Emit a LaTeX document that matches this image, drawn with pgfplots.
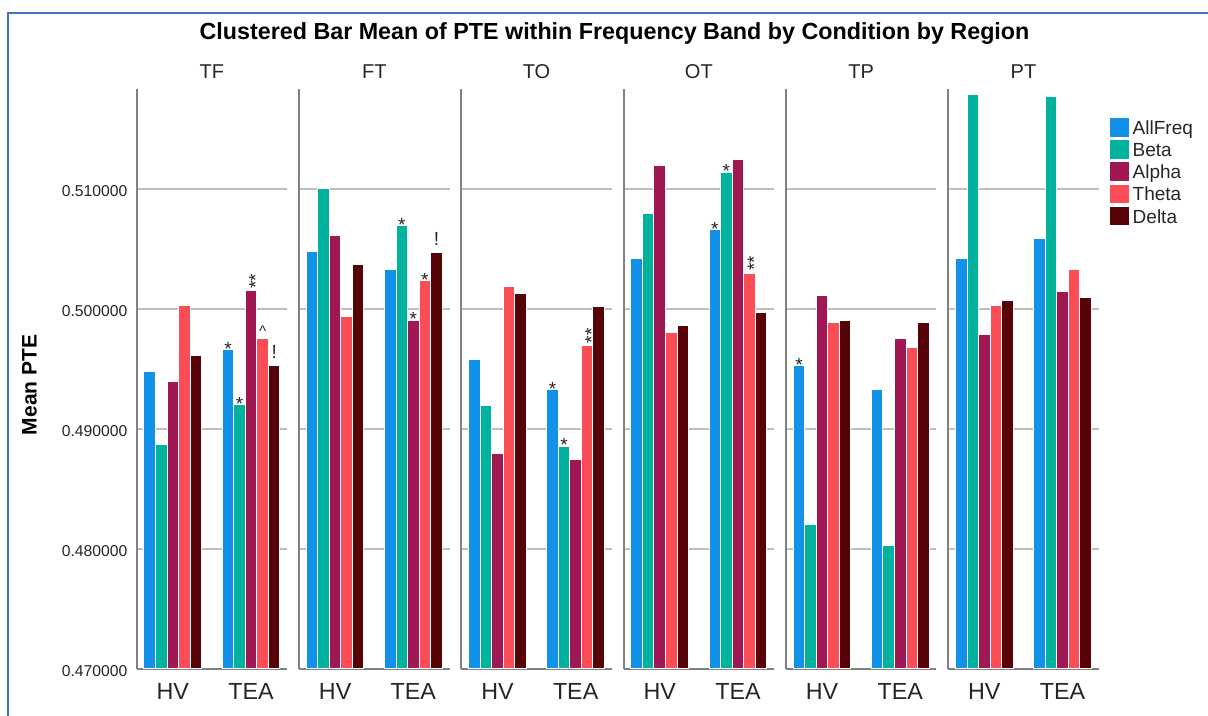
\documentclass[border=0pt]{standalone}
\usepackage{fontspec}
\setmainfont{Liberation Sans}
\usepackage{graphicx}
\usepackage{pgfplots}
\usepackage{pgfplotstable}
\pgfplotsset{compat=1.18}

\definecolor{cAll}{RGB}{17,146,232}
\definecolor{cBeta}{RGB}{1,178,158}
\definecolor{cAlpha}{RGB}{159,24,83}
\definecolor{cTheta}{RGB}{250,77,86}
\definecolor{cDelta}{RGB}{87,4,8}
\definecolor{axisgray}{RGB}{128,128,128}
\definecolor{gridgray}{RGB}{190,190,190}
\definecolor{txtgray}{RGB}{38,38,38}
\definecolor{framecol}{RGB}{68,114,196}

% significance markers printed above the bars (codes n, s, d, b, c)
\newcommand\labn{}
\newcommand\labs{\raisebox{-2.8pt}{*}}
\newcommand\labd{\raisebox{1.2pt}{\rotatebox{90}{**}}\kern-4.5pt}
\newcommand\labb{\raisebox{3.5pt}{!}}
\newcommand\labc{\raisebox{1pt}{\scalebox{0.8}{\textasciicircum}}}

% x: 0 = HV, 1 = TEA
\pgfplotstableread{
x allf beta alpha theta delta la lb lc ld le
0 0.49479 0.48872 0.49399 0.50029 0.49610 n n n n n
1 0.49661 0.49201 0.50150 0.49751 0.49530 s s d c b
}\tTF
\pgfplotstableread{
x allf beta alpha theta delta la lb lc ld le
0 0.50479 0.51000 0.50610 0.49939 0.50367 n n n n n
1 0.50326 0.50693 0.49907 0.50236 0.50473 n s s s b
}\tFT
\pgfplotstableread{
x allf beta alpha theta delta la lb lc ld le
0 0.49575 0.49198 0.48796 0.50185 0.50128 n n n n n
1 0.49329 0.48856 0.48744 0.49696 0.50022 s s n d n
}\tTO
\pgfplotstableread{
x allf beta alpha theta delta la lb lc ld le
0 0.50419 0.50799 0.51195 0.49805 0.49863 n n n n n
1 0.50661 0.51141 0.51249 0.50297 0.49971 s s n d n
}\tOT
\pgfplotstableread{
x allf beta alpha theta delta la lb lc ld le
0 0.49527 0.48208 0.50109 0.49891 0.49904 s n n n n
1 0.49332 0.48026 0.49751 0.49677 0.49885 n n n n n
}\tTP
\pgfplotstableread{
x allf beta alpha theta delta la lb lc ld le
0 0.50419 0.51789 0.49786 0.50026 0.50067 n n n n n
1 0.50585 0.51773 0.50147 0.50326 0.50099 n n n n n
}\tPT

\pgfplotsset{
  sq legend/.style={legend image code/.code={\fill[##1,draw=none] (0pt,-4.7pt) rectangle (9.15pt,4.7pt);}},
  bAll/.style={fill=cAll, draw=white, line width=0.5pt, bar shift=-0.295, sq legend},
  bBeta/.style={fill=cBeta, draw=white, line width=0.5pt, bar shift=-0.1475, sq legend},
  bAlpha/.style={fill=cAlpha, draw=white, line width=0.5pt, bar shift=0, sq legend},
  bTheta/.style={fill=cTheta, draw=white, line width=0.5pt, bar shift=0.1475, sq legend},
  bDelta/.style={fill=cDelta, draw=white, line width=0.5pt, bar shift=0.295, sq legend},
  panel/.style={
    scale only axis, width=75.25pt, height=290pt, anchor=south west,
    xmin=-0.462, xmax=1.462, ymin=0.47, ymax=0.518333,
    ybar, bar width=0.1475,
    axis x line*=bottom, axis y line*=left,
    axis line style={draw=axisgray, line width=1pt, -},
    ytick={0.47,0.48,0.49,0.50,0.51},
    ymajorgrids, grid style={draw=gridgray, line width=0.75pt},
    major tick length=0pt,
    yticklabel=\empty,
    xtick={0,1}, xticklabels={HV,TEA},
    xticklabel style={font=\fontsize{11.65}{13}\selectfont, text=txtgray,
      anchor=base, inner sep=0pt, yshift=-15.5pt},
    title style={at={(axis description cs:0.5,1)}, anchor=base, yshift=-0.65pt,
      inner sep=0pt, font=\fontsize{10}{12}\selectfont, text=txtgray},
    point meta=explicit symbolic,
    nodes near coords={\csname lab\pgfplotspointmeta\endcsname},
    nodes near coords style={anchor=base, inner sep=0pt, text=txtgray,
      font=\fontsize{9.5}{10}\selectfont},
    clip=false,
  },
}

\begin{document}
\begin{tikzpicture}
\useasboundingbox (0,0) rectangle (604pt,358pt);
\fill[white] (0,0) rectangle (604pt,358pt);
\draw[framecol, line width=1pt] (3.9pt,0pt) -- (3.9pt,351.65pt) -- (604pt,351.65pt);

\node[anchor=base, font=\bfseries\fontsize{11.65}{14}\selectfont]
  at (307.25pt,338pt) {Clustered Bar Mean of PTE within Frequency Band by Condition by Region};

% TF
\begin{axis}[panel, at={(68.35pt,23.5pt)}, title={TF},
  yticklabel={\pgfmathprintnumber{\tick}},
  yticklabel style={font=\fontsize{7.85}{9}\selectfont, text=txtgray,
    anchor=east, inner sep=0pt, xshift=-4.5pt, yshift=-1.2pt,
    /pgf/number format/.cd, fixed, fixed zerofill, precision=6, assume math mode=true},
  ylabel={Mean PTE},
  ylabel style={at={(axis description cs:-0.7123,0.4897)}, anchor=center,
    font=\bfseries\fontsize{10.5}{12}\selectfont},
]
\addplot[bAll]   table[x=x, y=allf,  meta=la] {\tTF};
\addplot[bBeta]  table[x=x, y=beta,  meta=lb] {\tTF};
\addplot[bAlpha] table[x=x, y=alpha, meta=lc] {\tTF};
\addplot[bTheta] table[x=x, y=theta, meta=ld] {\tTF};
\addplot[bDelta] table[x=x, y=delta, meta=le] {\tTF};
\end{axis}

% FT
\begin{axis}[panel, at={(149.5pt,23.5pt)}, title={FT}]
\addplot[bAll]   table[x=x, y=allf,  meta=la] {\tFT};
\addplot[bBeta]  table[x=x, y=beta,  meta=lb] {\tFT};
\addplot[bAlpha] table[x=x, y=alpha, meta=lc] {\tFT};
\addplot[bTheta] table[x=x, y=theta, meta=ld] {\tFT};
\addplot[bDelta] table[x=x, y=delta, meta=le] {\tFT};
\end{axis}

% TO
\begin{axis}[panel, at={(230.65pt,23.5pt)}, title={TO}]
\addplot[bAll]   table[x=x, y=allf,  meta=la] {\tTO};
\addplot[bBeta]  table[x=x, y=beta,  meta=lb] {\tTO};
\addplot[bAlpha] table[x=x, y=alpha, meta=lc] {\tTO};
\addplot[bTheta] table[x=x, y=theta, meta=ld] {\tTO};
\addplot[bDelta] table[x=x, y=delta, meta=le] {\tTO};
\end{axis}

% OT
\begin{axis}[panel, at={(311.8pt,23.5pt)}, title={OT}]
\addplot[bAll]   table[x=x, y=allf,  meta=la] {\tOT};
\addplot[bBeta]  table[x=x, y=beta,  meta=lb] {\tOT};
\addplot[bAlpha] table[x=x, y=alpha, meta=lc] {\tOT};
\addplot[bTheta] table[x=x, y=theta, meta=ld] {\tOT};
\addplot[bDelta] table[x=x, y=delta, meta=le] {\tOT};
\end{axis}

% TP
\begin{axis}[panel, at={(392.95pt,23.5pt)}, title={TP}]
\addplot[bAll]   table[x=x, y=allf,  meta=la] {\tTP};
\addplot[bBeta]  table[x=x, y=beta,  meta=lb] {\tTP};
\addplot[bAlpha] table[x=x, y=alpha, meta=lc] {\tTP};
\addplot[bTheta] table[x=x, y=theta, meta=ld] {\tTP};
\addplot[bDelta] table[x=x, y=delta, meta=le] {\tTP};
\end{axis}

% PT, carries the legend
\begin{axis}[panel, at={(474.1pt,23.5pt)}, title={PT},
  legend style={at={(axis description cs:1,1)}, anchor=north west,
    xshift=5.85pt, yshift=-14.65pt, draw=none, fill=none,
    inner sep=0pt, outer sep=0pt, row sep=1.65pt, column sep=2pt,
    font=\fontsize{9.5}{11}\selectfont, text=txtgray,
    nodes={inner sep=0pt, text height=7pt, text depth=0pt}},
  legend cell align=left,
]
\addplot[bAll]   table[x=x, y=allf,  meta=la] {\tPT};
\addplot[bBeta]  table[x=x, y=beta,  meta=lb] {\tPT};
\addplot[bAlpha] table[x=x, y=alpha, meta=lc] {\tPT};
\addplot[bTheta] table[x=x, y=theta, meta=ld] {\tPT};
\addplot[bDelta] table[x=x, y=delta, meta=le] {\tPT};
\legend{AllFreq,Beta,Alpha,Theta,Delta}
\end{axis}
\end{tikzpicture}
\end{document}
